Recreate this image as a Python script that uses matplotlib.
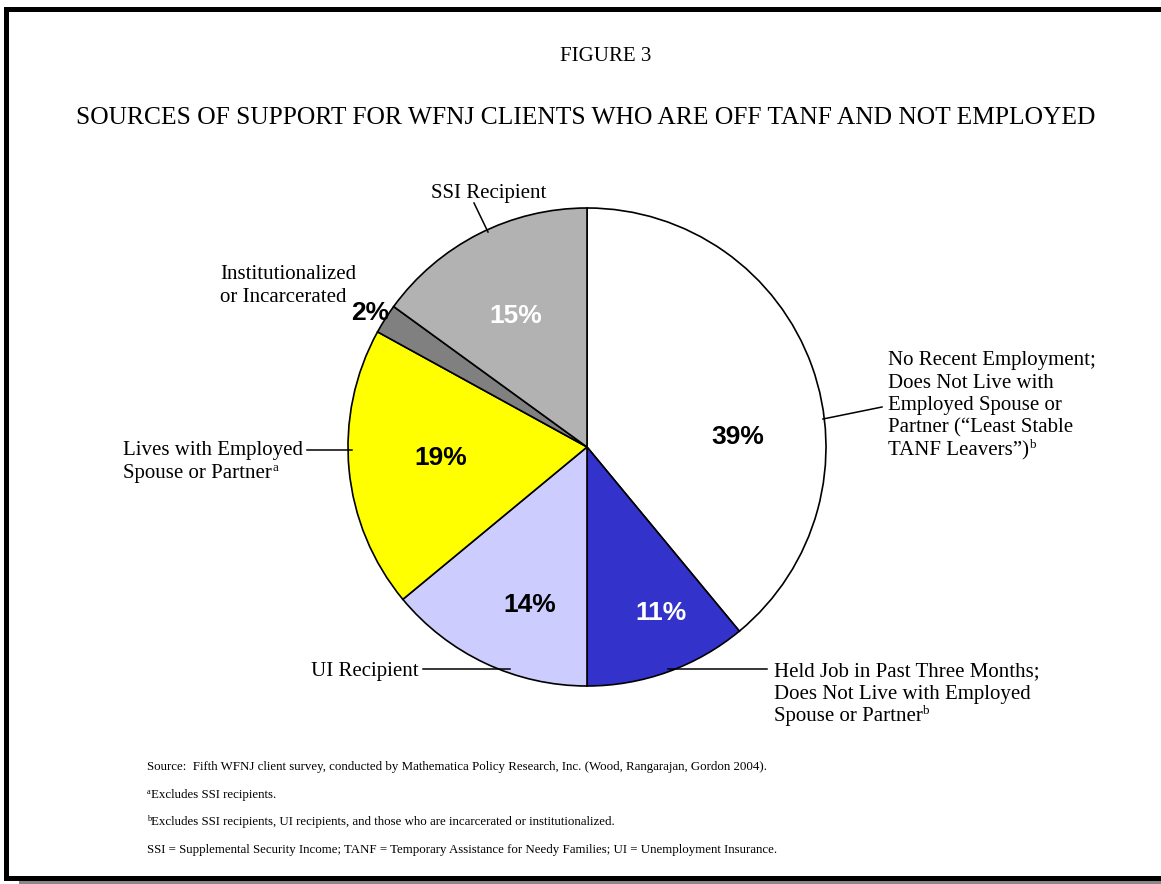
import matplotlib.pyplot as plt
from matplotlib.patches import Rectangle

plt.rcParams['font.family'] = 'Liberation Serif'

# Shares (percent), clockwise from 12 o'clock
shares = [39, 11, 14, 19, 2, 15]
categories = [
    'No Recent Employment;\nDoes Not Live with\nEmployed Spouse or\nPartner (\u201cLeast Stable\nTANF Leavers\u201d)',
    'Held Job in Past Three Months;\nDoes Not Live with Employed\nSpouse or Partner',
    'UI Recipient',
    'Lives with Employed\nSpouse or Partner',
    'Institutionalized\nor Incarcerated',
    'SSI Recipient',
]
category_notes = ['b', 'b', '', 'a', '', '']
colors = ['#FFFFFF', '#3333CC', '#CCCCFF', '#FFFF00', '#808080', '#B2B2B2']
pct_colors = ['black', 'white', 'black', 'black', 'black', 'white']

footnotes = [
    'Source:  Fifth WFNJ client survey, conducted by Mathematica Policy Research, Inc. (Wood, Rangarajan, Gordon 2004).',
    'Excludes SSI recipients.',
    'Excludes SSI recipients, UI recipients, and those who are incarcerated or institutionalized.',
    'SSI = Supplemental Security Income; TANF = Temporary Assistance for Needy Families; UI = Unemployment Insurance.',
]
footnote_marks = ['', 'a', 'b', '']

W, H = 1161, 884
fig = plt.figure(figsize=(W / 100, H / 100), dpi=100)
ax = fig.add_axes([0, 0, 1, 1])

# pie (y axis is inverted below, so counterclock in data = clockwise on screen)
cx, cy, r = 587, 447, 239
ax.pie(shares, colors=colors, startangle=-90, counterclock=True,
       center=(cx, cy), radius=r,
       wedgeprops=dict(edgecolor='black', linewidth=1.2))
ax.set_xlim(0, W)
ax.set_ylim(H, 0)
ax.set_aspect('equal')
ax.axis('off')

renderer = fig.canvas.get_renderer()
inv = ax.transData.inverted()


def sup_after(t, mark, y, size, lift):
    # put a small superscript letter right after a text object
    bb = t.get_window_extent(renderer)
    x_end = inv.transform((bb.x1, bb.y0))[0]
    ax.text(x_end + 0.5, y - lift, mark, ha='left', va='baseline',
            fontsize=size, zorder=5)


def label(x, y0, text, mark='', ha='left', size=15, step=22.6):
    lines = text.split('\n')
    for i, ln in enumerate(lines):
        y = y0 + i * step
        t = ax.text(x, y, ln, ha=ha, va='baseline', fontsize=size, zorder=5)
        if mark and i == len(lines) - 1:
            sup_after(t, mark, y, size * 0.62, 7)


# frame with shadow
ax.add_patch(Rectangle((19, 16), 1200, 868, facecolor='#888888', edgecolor='none', zorder=0))
ax.add_patch(Rectangle((4, 7), 1200, 874, facecolor='black', edgecolor='none', zorder=0.5))
ax.add_patch(Rectangle((9, 12), 1200, 864, facecolor='white', edgecolor='none', zorder=0.6))

# titles
ax.text(606, 61, 'FIGURE 3', ha='center', va='baseline', fontsize=15)
ax.text(586, 124, 'SOURCES OF SUPPORT FOR WFNJ CLIENTS WHO ARE OFF TANF AND NOT EMPLOYED',
        ha='center', va='baseline', fontsize=18.4)

# percent labels
pct_pos = [(738, 437), (661, 613), (530, 605), (441, 458), (370, 313), (516, 316)]
for v, (px, py), c in zip(shares, pct_pos, pct_colors):
    ax.text(px, py, f'{v}%', ha='center', va='center', fontsize=19,
            fontweight='bold', family='Liberation Sans', color=c, zorder=5)

# category labels and leader lines
label(888, 365, categories[0], category_notes[0])
ax.plot([823, 882], [419, 407], color='black', lw=1.1, zorder=4)
label(774, 676, categories[1], category_notes[1])
ax.plot([668, 767], [669, 669], color='black', lw=1.1, zorder=4)
label(419, 676, categories[2], category_notes[2], ha='right')
ax.plot([423, 510], [669, 669], color='black', lw=1.1, zorder=4)
label(123, 455, categories[3], category_notes[3])
ax.plot([307, 352], [450, 450], color='black', lw=1.1, zorder=4)
label(220, 279, categories[4], category_notes[4])
label(489, 198, categories[5], category_notes[5], ha='center')
ax.plot([474, 488], [203, 232], color='black', lw=1.1, zorder=4)

# footnotes
for i, (t, m) in enumerate(zip(footnotes, footnote_marks)):
    y = 770 + i * 27.7
    x = 147
    if m:
        mt = ax.text(x, y - 4, m, ha='left', va='baseline', fontsize=6, zorder=5)
        bb = mt.get_window_extent(renderer)
        x = inv.transform((bb.x1, bb.y0))[0]
    ax.text(x, y, t, ha='left', va='baseline', fontsize=9.3, zorder=5)

fig.savefig('out.png', dpi=100)
